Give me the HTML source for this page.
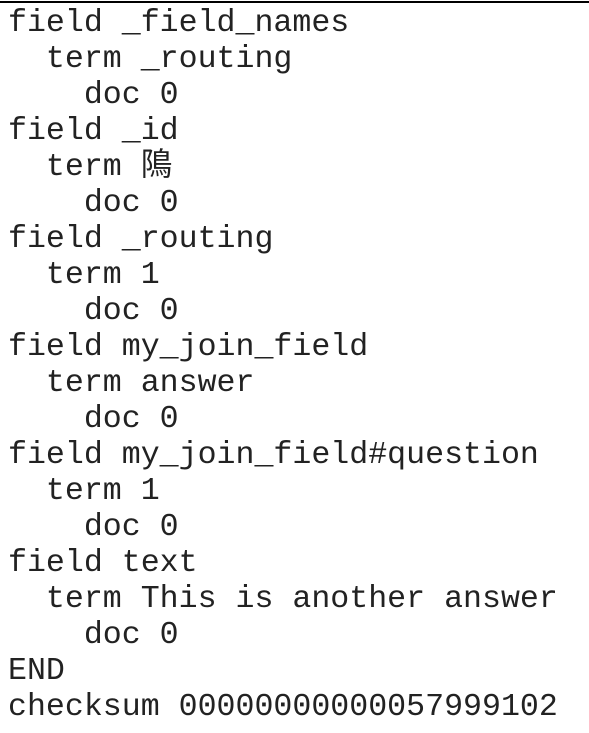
<!DOCTYPE html>
<html><head><style>
body{margin:0;width:589px;height:733px;background:#fff;overflow:hidden;position:relative}
.b{position:absolute;left:0;top:1px;width:589px;height:2px;background:#000}
pre{position:absolute;left:8px;top:6px;margin:0;font-family:"Liberation Mono","Noto Sans CJK SC",monospace;font-size:31.6px;line-height:36px;color:#222}
</style></head><body><div class="b"></div><pre>field _field_names
  term _routing
    doc 0
field _id
  term 隝
    doc 0
field _routing
  term 1
    doc 0
field my_join_field
  term answer
    doc 0
field my_join_field#question
  term 1
    doc 0
field text
  term This is another answer
    doc 0
END
checksum 00000000000057999102</pre></body></html>
